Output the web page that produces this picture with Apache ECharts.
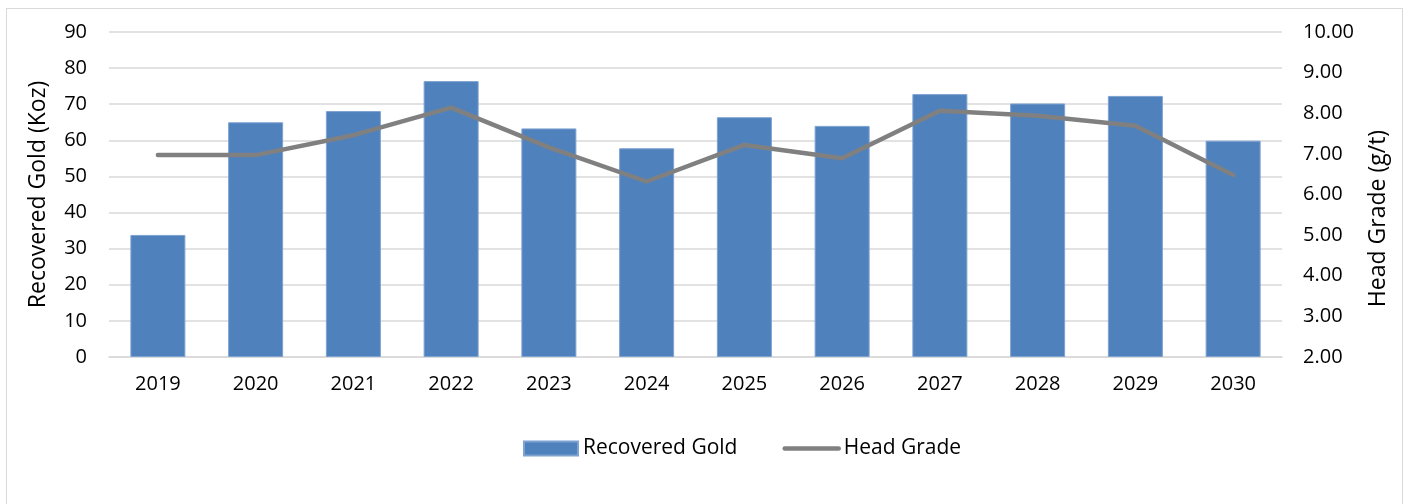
<!DOCTYPE html>
<html><head><meta charset="utf-8">
<script src="https://cdn.jsdelivr.net/npm/echarts@6/dist/echarts.min.js"></script>
<style>html,body{margin:0;padding:0;background:#fff}#c{width:1410px;height:504px}
#frame{position:absolute;left:6px;top:8px;width:1397px;height:520px;border:1px solid #d9d9d9;box-sizing:border-box;pointer-events:none}</style>
</head><body><div id="c"></div><div id="frame"></div>
<script>
const years = ['2019','2020','2021','2022','2023','2024','2025','2026','2027','2028','2029','2030'];
const recoveredGold = [33.8, 65.0, 68.1, 76.4, 63.3, 57.8, 66.4, 64.0, 72.8, 70.2, 72.3, 59.9];
const headGrade = [6.97, 6.97, 7.46, 8.14, 7.16, 6.32, 7.22, 6.89, 8.06, 7.94, 7.69, 6.48];
const font = 'Open Sans, Liberation Sans, sans-serif';
const chart = echarts.init(document.getElementById('c'));
chart.setOption({
  animation:false,
  textStyle:{fontFamily:font},
  grid:{left:109,right:128,top:32,bottom:147},
  legend:{top:433,left:518,itemGap:45,itemWidth:54,itemHeight:14,
    textStyle:{fontSize:21,color:'#000',fontFamily:font},
    data:[{name:'Recovered Gold',icon:'rect'},
          {name:'Head Grade',itemStyle:{opacity:0},lineStyle:{color:'#808080',width:4.5,cap:'round'}}]},
  xAxis:{type:'category',data:years,
    axisLine:{lineStyle:{color:'#d9d9d9',width:1.5}},axisTick:{show:false},
    axisLabel:{fontSize:20,color:'#000',margin:17,fontFamily:font}},
  yAxis:[
    {type:'value',min:0,max:90,interval:10,name:'Recovered Gold (Koz)',nameLocation:'middle',nameGap:59,
     nameTextStyle:{fontSize:23,color:'#000',fontFamily:font},
     axisLabel:{fontSize:20,color:'#000',margin:22,fontFamily:font},
     splitLine:{lineStyle:{color:'#d9d9d9',width:1.5}},axisLine:{show:false},axisTick:{show:false}},
    {type:'value',min:2,max:10,interval:1,name:'Head Grade (g/t)',nameLocation:'middle',nameGap:85,
     nameTextStyle:{fontSize:23,color:'#000',fontFamily:font,padding:[0,48,0,0]},
     axisLabel:{fontSize:20,color:'#000',margin:21,fontFamily:font,formatter:v=>v.toFixed(2)},
     splitLine:{show:false},axisLine:{show:false},axisTick:{show:false}}
  ],
  series:[
    {name:'Recovered Gold',type:'bar',data:recoveredGold,barWidth:55,
     itemStyle:{color:'#4f81bd',borderColor:'#7ea2d2',borderWidth:1}},
    {name:'Head Grade',type:'line',yAxisIndex:1,data:headGrade,symbol:'none',
     lineStyle:{color:'#808080',width:4.5,cap:'round',join:'round'},itemStyle:{color:'#808080'}}
  ]
});
</script></body></html>
